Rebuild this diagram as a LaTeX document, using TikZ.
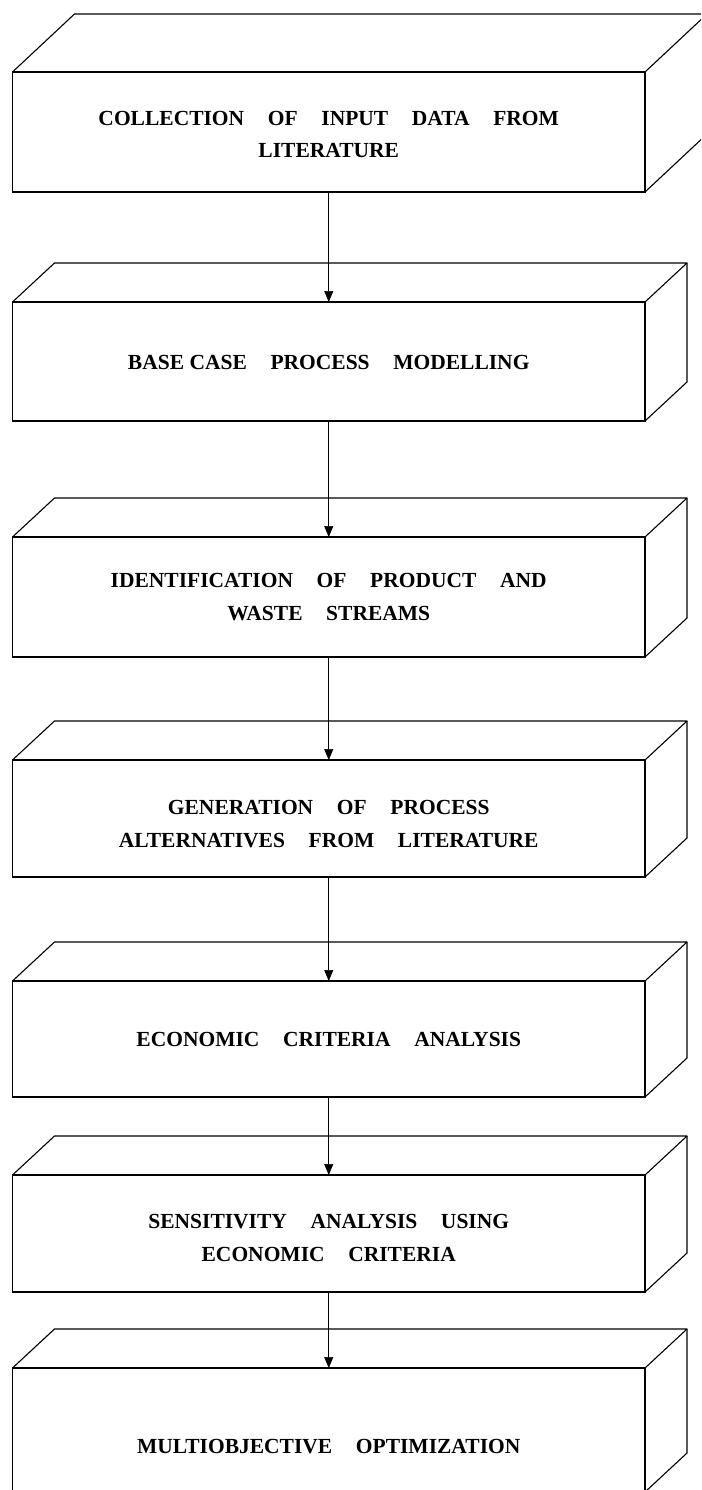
\documentclass[tikz,border=0pt]{standalone}
\usepackage{fontspec}
\setmainfont{Liberation Serif}
\usetikzlibrary{calc,arrows.meta}
% wide gap between words of a caption
\newcommand\gapw{\hspace{1.1em}}
% top face and right face of a slab whose front face is node #1, depth (#2,#3)
\newcommand\slab[3]{%
  \draw[edge] (#1.north west) -- ++(#2,-#3) -- ($(#1.north east)+(#2,-#3)$) -- (#1.north east);
  \draw[edge] ($(#1.north east)+(#2,-#3)$) -- ($(#1.south east)+(#2,-#3)$) -- (#1.south east);
}
\begin{document}
\begin{tikzpicture}[x=1pt,y=-1pt,
  edge/.style={line width=1.1pt, line join=round},
  face/.style={draw, rectangle, line width=1.1pt, inner sep=0pt, outer sep=0pt,
               minimum width=632.5pt},
  caption/.style={align=center, inner sep=0pt,
               font=\bfseries\fontsize{21.5}{32.5}\selectfont},
  flow/.style={line width=0.7pt, -{Triangle[length=11pt,width=9pt]}}
]
\useasboundingbox (0,0) rectangle (701,1490);
\clip (0,0) rectangle (701,1490);

% front faces
\node[face, minimum height=120pt] (f1) at (328.75,132)    {};
\node[face, minimum height=119pt] (f2) at (328.75,361.5)  {};
\node[face, minimum height=120pt] (f3) at (328.75,597)    {};
\node[face, minimum height=117pt] (f4) at (328.75,818.5)  {};
\node[face, minimum height=116pt] (f5) at (328.75,1039)   {};
\node[face, minimum height=117pt] (f6) at (328.75,1233.5) {};
\node[face, minimum height=124pt] (f7) at (328.75,1430)   {};

% top and side faces
\slab{f1}{62}{58}
\slab{f2}{42}{39}
\slab{f3}{42}{39}
\slab{f4}{42}{39}
\slab{f5}{42}{39}
\slab{f6}{42}{39}
\slab{f7}{42}{39}

% captions
\node[caption] (t1) at (328.75,134.5) {COLLECTION\gapw OF\gapw INPUT\gapw DATA\gapw FROM\\LITERATURE};
\node[caption] (t2) at (328.75,362)   {BASE CASE\gapw PROCESS\gapw MODELLING};
\node[caption] (t3) at (328.75,597)   {IDENTIFICATION\gapw OF\gapw PRODUCT\gapw AND\\WASTE\gapw STREAMS};
\node[caption] (t4) at (328.75,824)   {GENERATION\gapw OF\gapw PROCESS\\ALTERNATIVES\gapw FROM\gapw LITERATURE};
\node[caption] (t5) at (328.75,1039)  {ECONOMIC\gapw CRITERIA\gapw ANALYSIS};
\node[caption] (t6) at (328.75,1238)  {SENSITIVITY\gapw ANALYSIS\gapw USING\\ECONOMIC\gapw CRITERIA};
\node[caption] (t7) at (328.75,1447)  {MULTIOBJECTIVE\gapw OPTIMIZATION};

% flow arrows
\draw[flow] (f1.south) -- (f2.north);
\draw[flow] (f2.south) -- (f3.north);
\draw[flow] (f3.south) -- (f4.north);
\draw[flow] (f4.south) -- (f5.north);
\draw[flow] (f5.south) -- (f6.north);
\draw[flow] (f6.south) -- (f7.north);
\end{tikzpicture}
\end{document}
